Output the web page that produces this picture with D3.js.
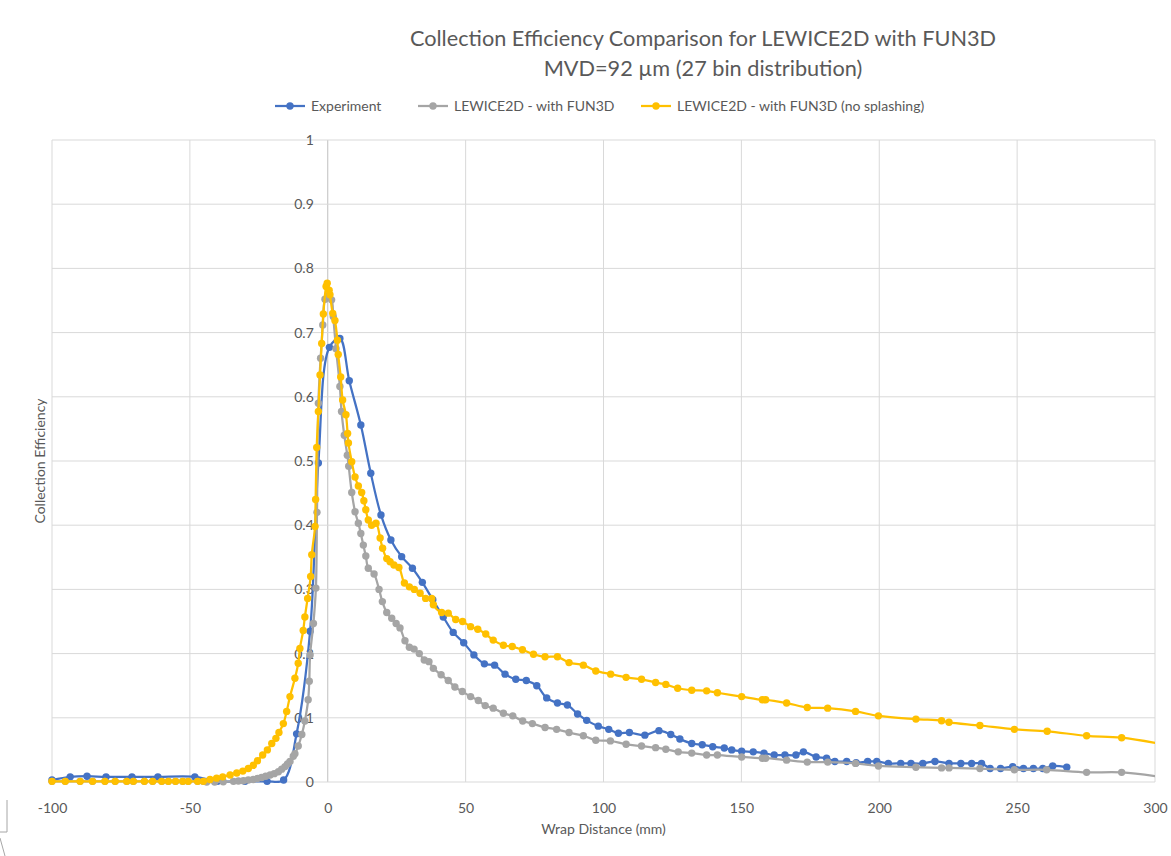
<!DOCTYPE html>
<html>
<head>
<meta charset="utf-8">
<script src="https://d3js.org/d3.v7.min.js"></script>
<style>
  body { margin: 0; background: #fff; }
  text { font-family: Lato, "Open Sans", sans-serif; fill: #595959; }
</style>
</head>
<body>
<svg id="chart" width="1171" height="856"></svg>
<script>
// ---- data ----
var xTicks = [-100, -50, 0, 50, 100, 150, 200, 250, 300];
var yTicks = [0, 0.1, 0.2, 0.3, 0.4, 0.5, 0.6, 0.7, 0.8, 0.9, 1];
var seriesNames = ["Experiment", "LEWICE2D - with FUN3D", "LEWICE2D - with FUN3D (no splashing)"];
var seriesColors = ["#4472C4", "#A5A5A5", "#FFC000"];

var expX = [-100, -93.4, -87.3, -80.4, -71, -61.6, -48.2, -40, -30, -22, -16, -11.3, -6.4, -3.4, 0.6, 4.4, 7.8, 12, 15.6, 19.3,
  22.9, 26.8, 30.7, 34.3, 38.1, 41.9, 45.5, 49.3, 53, 56.8, 60.5, 64.3, 68.2, 72, 75.8, 79.4, 83.3, 86.9, 90.6, 93.9,
  98.1, 101.9, 105.4, 109.4, 115, 120.1, 124.4, 127.7, 132, 135.8, 139.6, 143.8, 146.5, 150.1, 154.3, 158.2, 161.9, 165.8, 169.8, 172.5,
  177.1, 180.9, 183.9, 188.2, 191.6, 195.8, 199.1, 203.3, 207.8, 211.5, 215.8, 220.2, 225.3, 229.6, 233.5, 237.1, 240.2, 244, 248.4, 252.3,
  255.9, 259.3, 262.9, 268];
var expY = [0.003, 0.008, 0.009, 0.008, 0.008, 0.008, 0.008, 0.001, 0.001, 0.001, 0.003, 0.075, 0.235, 0.497, 0.677, 0.691, 0.625, 0.556, 0.481, 0.416,
  0.377, 0.351, 0.333, 0.311, 0.284, 0.257, 0.233, 0.217, 0.198, 0.184, 0.182, 0.168, 0.160, 0.158, 0.150, 0.131, 0.123, 0.120, 0.106, 0.096,
  0.087, 0.082, 0.076, 0.077, 0.073, 0.080, 0.074, 0.067, 0.060, 0.058, 0.055, 0.053, 0.050, 0.048, 0.047, 0.045, 0.042, 0.042, 0.042, 0.047,
  0.039, 0.037, 0.032, 0.032, 0.030, 0.032, 0.032, 0.029, 0.029, 0.029, 0.029, 0.032, 0.029, 0.029, 0.029, 0.029, 0.021, 0.021, 0.024, 0.021,
  0.021, 0.021, 0.025, 0.023];

var lewX = [-100, -95.2, -89.8, -85.3, -80.8, -77.1, -72.9, -70.5, -66.5, -63.5, -60.2, -57.8, -55.2, -52.6, -50.6, -47.2, -45.1,
  -43.9, -41, -37.9, -34.2, -32.4, -30.6, -28.8, -27, -25.5, -24, -22.5, -20.9, -19.4, -17.9, -16.7, -15.5, -14.6, -13.7, -12.5, -11.9,
  -10.7, -9.4, -8.3, -7.1, -6.7, -6.4, -5.2, -4.3, -3.9, -3.4, -2.6, -1.8, -1, 0, 1.4, 2, 3, 4.4, 5, 6, 7.1, 7.6, 8.7, 9.9,
  11.1, 12, 12.9, 13.8, 14.7, 16.8, 18.6, 19.8, 21.4, 23.2, 24.8, 26.2, 28, 29.6, 31.3, 33.2, 35, 36.7, 38.3, 41.1, 43.7, 46.1, 48.8,
  51.8, 54.6, 57.1, 60, 63.7, 67.1, 70.7, 74.2, 78.8, 83, 87.5, 92.7, 97.2, 102.5, 108.2, 113.8, 118.9, 122.6, 127.1, 132, 137.4, 141.3,
  150.1, 157.6, 158.8, 166.4, 173.9, 181.3, 191.4, 199.7, 213.3, 222.6, 225.3, 236.5, 249, 260.7, 275.2, 287.9, 310];
var lewY = [0.001, 0.001, 0.001, 0.001, 0.001, 0.001, 0.001, 0.001, 0.001, 0.001, 0.001, 0.001, 0.001, 0.001, 0.001, 0.001, 0.001,
  0, 0, 0.0005, 0.001, 0.0015, 0.002, 0.003, 0.004, 0.0055, 0.007, 0.009, 0.011, 0.013, 0.016, 0.020, 0.024, 0.028, 0.032, 0.040, 0.044,
  0.056, 0.074, 0.095, 0.128, 0.157, 0.198, 0.247, 0.302, 0.420, 0.590, 0.660, 0.712, 0.752, 0.757, 0.751, 0.725, 0.675, 0.616, 0.577, 0.540, 0.509, 0.492, 0.451, 0.421,
  0.403, 0.387, 0.369, 0.352, 0.333, 0.324, 0.300, 0.281, 0.264, 0.255, 0.247, 0.240, 0.220, 0.210, 0.207, 0.200, 0.190, 0.1875, 0.177, 0.167, 0.158, 0.148, 0.141,
  0.133, 0.127, 0.119, 0.115, 0.107, 0.103, 0.095, 0.091, 0.085, 0.082, 0.077, 0.072, 0.065, 0.064, 0.0587, 0.056, 0.0535, 0.051, 0.047, 0.045, 0.042, 0.042,
  0.039, 0.037, 0.037, 0.034, 0.031, 0.031, 0.029, 0.025, 0.023, 0.022, 0.022, 0.021, 0.019, 0.019, 0.015, 0.015, 0.003];

var nsX = [-100, -95.2, -89.8, -85.3, -80.8, -77.1, -72.9, -70.5, -66.5, -63.5, -60.2, -57.8, -55.2, -52.6, -50.6, -47.2, -45.1,
  -42.7, -40.3, -38.1, -35.4, -33, -30.8, -28.8, -27, -25.5, -23.6, -21.9, -20.3, -18.8, -17.7, -16.1, -14.9, -13.7, -11.9, -10.7, -10.1,
  -8.9, -8.3, -7.3, -6.2, -5.8, -4.6, -4.4, -4, -3.4, -2.8, -2.2, -1.6, -0.6, -0.2, 0.5, 0.8, 1.8, 2.6, 3.5, 3.8, 4.7, 5.4, 6.6, 7.2,
  7.5, 8.7, 9.9, 11.1, 12.3, 13.1, 13.8, 14.7, 15.9, 17.5, 19, 19.9, 21.4, 22.6, 24, 25.8, 27.8, 29.6, 31.4, 33.5, 35.5, 37.7, 38.3, 41.3,
  43.7, 46.4, 48.9, 51.8, 54.4, 57.3, 60, 63.7, 66.9, 70.6, 74.6, 78.8, 83.3, 87.5, 92.7, 97.2, 102.6, 108.2, 113.8, 118.9, 122.6, 126.9,
  132, 137.4, 141.3, 150.1, 157.6, 158.8, 166.4, 173.9, 181.3, 191.4, 199.7, 213.3, 222.6, 225.3, 236.5, 249, 260.9, 275.2, 287.9, 310];
var nsY = [0.001, 0.001, 0.001, 0.001, 0.001, 0.001, 0.001, 0.001, 0.001, 0.001, 0.001, 0.001, 0.001, 0.001, 0.001, 0.001, 0.001,
  0.004, 0.006, 0.008, 0.011, 0.014, 0.017, 0.021, 0.026, 0.033, 0.042, 0.050, 0.060, 0.068, 0.077, 0.091, 0.110, 0.133, 0.1615, 0.185, 0.208,
  0.236, 0.257, 0.286, 0.320, 0.354, 0.398, 0.440, 0.521, 0.577, 0.634, 0.683, 0.729, 0.772, 0.777, 0.766, 0.759, 0.730, 0.719, 0.688, 0.666, 0.631, 0.595, 0.572, 0.543,
  0.528, 0.499, 0.475, 0.461, 0.451, 0.438, 0.424, 0.408, 0.400, 0.403, 0.380, 0.364, 0.348, 0.343, 0.338, 0.334, 0.310, 0.304, 0.300, 0.294, 0.286, 0.286, 0.276, 0.264,
  0.263, 0.253, 0.250, 0.242, 0.238, 0.2305, 0.221, 0.213, 0.211, 0.206, 0.199, 0.195, 0.195, 0.186, 0.182, 0.173, 0.168, 0.163, 0.160, 0.155, 0.152, 0.146,
  0.143, 0.142, 0.139, 0.133, 0.128, 0.128, 0.123, 0.116, 0.115, 0.110, 0.103, 0.098, 0.0955, 0.093, 0.088, 0.082, 0.079, 0.072, 0.069, 0.053];

// ---- chart ----
var svg = d3.select("#chart");
var plotLeft = 52, plotRight = 1155, plotTop = 140, plotBottom = 782;

var x = d3.scaleLinear().domain([-100, 300]).range([plotLeft, plotRight]);
var y = d3.scaleLinear().domain([0, 1]).range([plotBottom, plotTop]);

// gridlines
svg.append("g").selectAll("line").data(xTicks).enter().append("line")
  .attr("x1", d => x(d)).attr("x2", d => x(d))
  .attr("y1", plotTop).attr("y2", plotBottom)
  .attr("stroke", d => d === 0 ? "#BFBFBF" : "#D9D9D9").attr("stroke-width", 1);
svg.append("g").selectAll("line").data(yTicks).enter().append("line")
  .attr("x1", plotLeft).attr("x2", plotRight)
  .attr("y1", d => y(d)).attr("y2", d => y(d))
  .attr("stroke", "#D9D9D9").attr("stroke-width", 1);

// tick labels (y labels sit next to the x=0 axis)
var yAxis = d3.axisLeft(y).tickValues(yTicks).tickSize(0).tickPadding(14).tickFormat(d => String(d));
var gy = svg.append("g").attr("transform", "translate(" + x(0) + ",0)").call(yAxis);
gy.select(".domain").remove();
gy.selectAll("text").style("font-family", "Lato, sans-serif").style("font-size", "14px").attr("fill", "#595959");

var xAxis = d3.axisBottom(x).tickValues(xTicks).tickSize(0).tickPadding(21).tickFormat(d => String(d));
var gx = svg.append("g").attr("transform", "translate(0," + plotBottom + ")").call(xAxis);
gx.select(".domain").remove();
gx.selectAll("text").style("font-family", "Lato, sans-serif").style("font-size", "14px").attr("fill", "#595959");

// series
svg.append("clipPath").attr("id", "clip").append("rect")
  .attr("x", 0).attr("y", 0).attr("width", plotRight).attr("height", 856);

var series = [
  d3.zip(expX, expY),
  d3.zip(lewX, lewY),
  d3.zip(nsX, nsY)
];
var line = d3.line().x(d => x(d[0])).y(d => y(d[1])).curve(d3.curveCatmullRom.alpha(0.5));

var plot = svg.append("g").attr("clip-path", "url(#clip)");
series.forEach(function(s, i) {
  plot.append("path").datum(s)
    .attr("d", line).attr("fill", "none")
    .attr("stroke", seriesColors[i]).attr("stroke-width", 2.25);
  plot.append("g").selectAll("circle").data(s).enter().append("circle")
    .attr("cx", d => x(d[0])).attr("cy", d => y(d[1])).attr("r", 3.7)
    .attr("fill", seriesColors[i]);
});

// titles
svg.append("text").attr("x", 703).attr("y", 46).attr("text-anchor", "middle")
  .style("font-size", "21.7px").text("Collection Efficiency Comparison for LEWICE2D with FUN3D");
svg.append("text").attr("x", 703).attr("y", 76).attr("text-anchor", "middle")
  .style("font-size", "21.7px").text("MVD=92 µm (27 bin distribution)");

svg.append("text").attr("x", (plotLeft + plotRight) / 2).attr("y", 834).attr("text-anchor", "middle")
  .style("font-size", "14px").text("Wrap Distance (mm)");
svg.append("text").attr("transform", "translate(45," + (plotTop + plotBottom) / 2 + ") rotate(-90)")
  .attr("text-anchor", "middle").style("font-size", "14px").text("Collection Efficiency");

// legend
var legendX = [275, 418, 641];
var lg = svg.append("g").selectAll("g").data(seriesNames).enter().append("g")
  .attr("transform", (d, i) => "translate(" + legendX[i] + ",106)");
lg.append("line").attr("x1", 0).attr("x2", 30).attr("stroke", (d, i) => seriesColors[i]).attr("stroke-width", 2.25);
lg.append("circle").attr("cx", 15).attr("r", 3.7).attr("fill", (d, i) => seriesColors[i]);
lg.append("text").attr("x", 36).attr("y", 5).style("font-size", "14px").text(d => d);

// chart frame corner, bottom left
svg.append("path").attr("d", "M7,800 V832 H0").attr("fill", "none").attr("stroke", "#A6A6A6");
svg.append("path").attr("d", "M0,838 L5,856").attr("fill", "none").attr("stroke", "#A6A6A6");
</script>
</body>
</html>
